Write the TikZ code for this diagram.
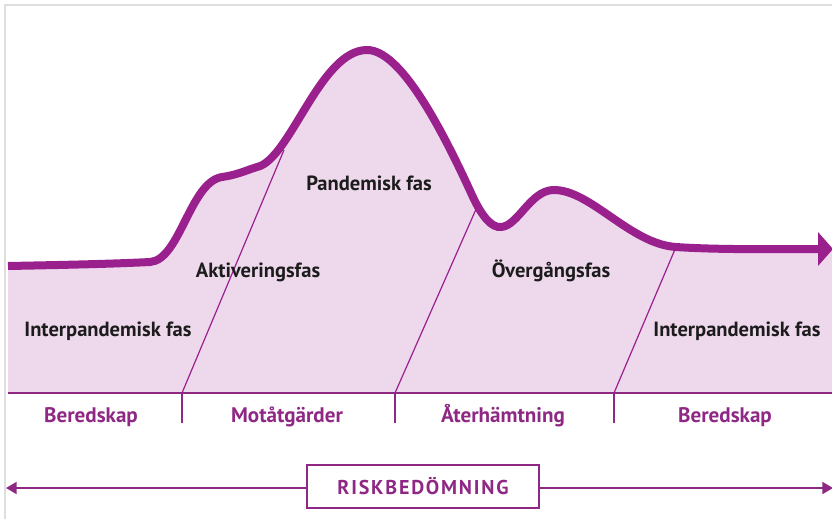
\documentclass[tikz,border=0pt]{standalone}
\usepackage{fontspec}
\setmainfont{PT Sans}
\usetikzlibrary{arrows.meta}
\definecolor{curvec}{RGB}{154,32,142}
\definecolor{fillc}{RGB}{238,216,236}
\definecolor{bandc}{RGB}{142,40,132}
\definecolor{framec}{RGB}{222,222,222}
\definecolor{labc}{RGB}{28,28,28}
\begin{document}
\begin{tikzpicture}[x=0.75pt,y=-0.75pt,
  phase/.style={font=\bfseries\fontsize{15.4}{17}\selectfont, text=labc, inner sep=0pt, anchor=base},
  bandlbl/.style={font=\bfseries\fontsize{15.8}{17}\selectfont, text=bandc, inner sep=0pt, anchor=base},
  divider/.style={draw=curvec, line width=0.9pt},
  sepline/.style={draw=bandc, line width=1.2pt},
  riskbox/.style={draw=bandc, line width=1.4pt, fill=white, minimum width=174pt, minimum height=32pt, inner sep=0pt,
    font=\bfseries\fontsize{15}{17}\selectfont\addfontfeature{LetterSpace=9}, text=bandc},
  riskarrow/.style={draw=bandc, line width=1.5pt, -{Triangle[length=8pt,width=9pt]}}]
\useasboundingbox (0,0) rectangle (832,519);
\fill[white] (0,0) rectangle (832,519);
\draw[framec, line width=1.2pt] (5,519) -- (5,5) -- (832,5);

\def\curvepath{(8,266) .. controls (60,265) and (110,264) .. (150,262)
  .. controls (180,260) and (190,182) .. (222,177)
  .. controls (237,175) and (247,170) .. (257,167)
  .. controls (290,160) and (320,50) .. (367,50)
  .. controls (400,50) and (440,125) .. (472,195)
  .. controls (482,217) and (492,228) .. (501,227)
  .. controls (518,226) and (530,191) .. (553,190)
  .. controls (590,189) and (630,244) .. (676,247)
  .. controls (720,250) and (780,249) .. (820,249)}

% fill under the curve
\fill[fillc] \curvepath -- (832,249) -- (832,393) -- (8,393) -- cycle;

% coordinates
\coordinate (b1) at (182,393);
\coordinate (b2) at (395,393);
\coordinate (b3) at (614,393);
\coordinate (t1) at (284,150);
\coordinate (t2) at (477,207);
\coordinate (t3) at (676,247);
\coordinate (s1) at (182,423);
\coordinate (s2) at (395,423);
\coordinate (s3) at (614,423);
\coordinate (bl) at (8,393);
\coordinate (br) at (832,393);

% diagonals between phases
\draw[divider] (b1) -- (t1);
\draw[divider] (b2) -- (t2);
\draw[divider] (b3) -- (t3);

% curve
\draw[curvec, line width=6pt] \curvepath;
\fill[curvec] (818,232) -- (833,249) -- (818,266) -- cycle;

% band
\draw[sepline] (bl) -- (br);
\draw[sepline] (b1) -- (s1);
\draw[sepline] (b2) -- (s2);
\draw[sepline] (b3) -- (s3);

% phase labels
\node[phase] (pand) at (369,190) {Pandemisk fas};
\node[phase] (akt) at (258,277) {Aktiveringsfas};
\node[phase] (int1) at (108,336) {Interpandemisk fas};
\node[phase] (overg) at (551,277) {Övergångsfas};
\node[phase] (int2) at (737,336) {Interpandemisk fas};

% band labels
\node[bandlbl] (ber1) at (91,422) {Beredskap};
\node[bandlbl] (mot) at (287,422) {Motåtgärder};
\node[bandlbl] (ater) at (503,422) {Återhämtning};
\node[bandlbl] (ber2) at (725,422) {Beredskap};

% risk assessment
\node[riskbox] (risk) at (423,486.5) {RISKBEDÖMNING};
\coordinate (lend) at (6,488);
\coordinate (rend) at (833,488);
\draw[riskarrow] (risk.west |- lend) -- (lend);
\draw[riskarrow] (risk.east |- rend) -- (rend);
\end{tikzpicture}
\end{document}
